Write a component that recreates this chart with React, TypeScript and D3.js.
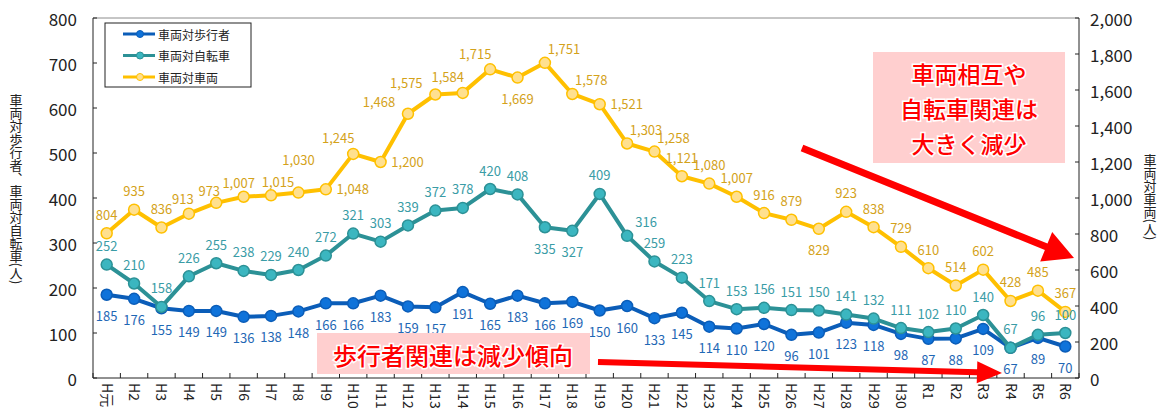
import React from "react";
import { scaleBand, scaleLinear, line, format } from "d3";

const categories = [
  "H元", "H2", "H3", "H4", "H5", "H6", "H7", "H8", "H9", "H10",
  "H11", "H12", "H13", "H14", "H15", "H16", "H17", "H18", "H19", "H20",
  "H21", "H22", "H23", "H24", "H25", "H26", "H27", "H28", "H29", "H30",
  "R1", "R2", "R3", "R4", "R5", "R6",
];

const pedestrian = [
  185, 176, 155, 149, 149, 136, 138, 148, 166, 166, 183, 159, 157, 191, 165, 183, 166, 169,
  150, 160, 133, 145, 114, 110, 120, 96, 101, 123, 118, 98, 87, 88, 109, 67, 89, 70,
];

const bicycle = [
  252, 210, 158, 226, 255, 238, 229, 240, 272, 321, 303, 339, 372, 378, 420, 408, 335, 327,
  409, 316, 259, 223, 171, 153, 156, 151, 150, 141, 132, 111, 102, 110, 140, 67, 96, 100,
];

const vehicle = [
  804, 935, 836, 913, 973, 1007, 1015, 1030, 1048, 1245, 1200, 1468, 1575, 1584, 1715, 1669,
  1751, 1578, 1521, 1303, 1258, 1121, 1080, 1007, 916, 879, 829, 923, 838, 729, 610, 514,
  602, 428, 485, 367,
];

const leftTicks = [0, 100, 200, 300, 400, 500, 600, 700, 800];
const rightTicks = [0, 200, 400, 600, 800, 1000, 1200, 1400, 1600, 1800, 2000];

// label placement codes (t=above, b=below, r=right, ...)
const pedPlace = categories.map(() => "b");
const bikePlace = [
  "t", "t", "t", "t", "t", "t", "t", "t", "t", "t", "t", "t", "t", "t", "t", "t", "b", "b",
  "t", "tr", "t", "t", "t", "t", "t", "t", "t", "t", "t", "t", "t", "t", "t", "t", "t", "t",
];
const vehPlace = [
  "t", "t", "t", "tl1", "tl2", "tl3", "tr3", "tt", "r", "tl", "r", "l", "l", "tl", "tl", "b",
  "tr", "tr", "r", "tr", "tr", "t", "t", "t", "t", "t", "b", "t", "t", "t", "t", "t",
  "t", "t", "t", "t",
];

const offsets: Record<string, [number, number]> = {
  t: [0, -19],
  tt: [0, -33],
  b: [0, 21],
  r: [27, -1],
  l: [-29, -12],
  tl: [-15, -16],
  tr: [19, -14],
  tl1: [-6, -15],
  tl2: [-7, -12],
  tl3: [-5, -14],
  tr3: [7, -14],
};

const W = 1164;
const H = 412;
const left = 93;
const right = 1079;
const top = 18;
const bottom = 378;

const FONT = "'Noto Sans CJK JP', 'Noto Sans', sans-serif";

const x = scaleBand<string>().domain(categories).range([left, right]);
const yL = scaleLinear().domain([0, 800]).range([bottom, top]);
const yR = scaleLinear().domain([0, 2000]).range([bottom, top]);
const cx = (c: string) => (x(c) as number) + x.bandwidth() / 2;
const fmt = format(",");

const series = [
  {
    name: "車両対歩行者",
    values: pedestrian,
    y: yL,
    place: pedPlace,
    lineColor: "#0B5DB8",
    fill: "#0F73DA",
    labelColor: "#1F68B5",
  },
  {
    name: "車両対自転車",
    values: bicycle,
    y: yL,
    place: bikePlace,
    lineColor: "#2C9196",
    fill: "#3BB6C0",
    labelColor: "#3A9CA6",
  },
  {
    name: "車両対車両",
    values: vehicle,
    y: yR,
    place: vehPlace,
    lineColor: "#FFC000",
    fill: "#FFE08F",
    labelColor: "#D4A21A",
  },
];

// polygon for a thick arrow from (x1,y1) to tip (x2,y2)
function arrowPath(x1: number, y1: number, x2: number, y2: number, shaft: number, headLen: number, headW: number) {
  const dx = x2 - x1;
  const dy = y2 - y1;
  const len = Math.hypot(dx, dy);
  const ux = dx / len;
  const uy = dy / len;
  const nx = -uy;
  const ny = ux;
  const bx = x2 - ux * headLen;
  const by = y2 - uy * headLen;
  const p = [
    [x1 + nx * shaft / 2, y1 + ny * shaft / 2],
    [bx + nx * shaft / 2, by + ny * shaft / 2],
    [bx + nx * headW / 2, by + ny * headW / 2],
    [x2, y2],
    [bx - nx * headW / 2, by - ny * headW / 2],
    [bx - nx * shaft / 2, by - ny * shaft / 2],
    [x1 - nx * shaft / 2, y1 - ny * shaft / 2],
  ];
  return "M" + p.map((q) => q.join(",")).join("L") + "Z";
}

const App = () => {
  const boundaries = categories.map((c) => x(c) as number).concat([right]);

  return (
    <svg
      width={W}
      height={H}
      style={{ position: "absolute", left: 0, top: 0, background: "#fff" }}
      fontFamily={FONT}
    >
      {/* plot frame */}
      <line x1={left} x2={right} y1={top} y2={top} stroke="#8c8c8c" strokeWidth={1} />
      <line x1={left} x2={left} y1={top} y2={bottom} stroke="#222" strokeWidth={1} />
      <line x1={right} x2={right} y1={top} y2={bottom} stroke="#222" strokeWidth={1} />
      <line x1={left} x2={right} y1={bottom} y2={bottom} stroke="#222" strokeWidth={1} />

      {/* left axis */}
      {leftTicks.map((t) => (
        <g key={"l" + t}>
          <line x1={left} x2={left + 4} y1={yL(t)} y2={yL(t)} stroke="#222" />
          <text x={77} y={yL(t)} textAnchor="end" dominantBaseline="central" fontSize={17} fill="#222">
            {t}
          </text>
        </g>
      ))}
      {/* right axis */}
      {rightTicks.map((t) => (
        <g key={"r" + t}>
          <line x1={right - 4} x2={right} y1={yR(t)} y2={yR(t)} stroke="#222" />
          <text x={1090} y={yR(t)} dominantBaseline="central" fontSize={17} fill="#222">
            {fmt(t)}
          </text>
        </g>
      ))}
      {/* x axis */}
      {boundaries.map((b, i) => (
        <line key={"xt" + i} x1={b} x2={b} y1={bottom} y2={bottom - 5} stroke="#222" />
      ))}
      {categories.map((c) => (
        <text
          key={"xl" + c}
          transform={`translate(${cx(c) - 5},${bottom + 5}) rotate(90)`}
          fontSize={14}
          fill="#222"
        >
          {c}
        </text>
      ))}

      {/* axis titles */}
      <text
        x={16}
        y={189}
        style={{ writingMode: "vertical-rl" }}
        textAnchor="middle"
        fontSize={13}
        fill="#222"
      >
        車両対歩行者、車両対自転車(人)
      </text>
      <text
        x={1150}
        y={197}
        style={{ writingMode: "vertical-rl" }}
        textAnchor="middle"
        fontSize={13}
        fill="#222"
      >
        車両対車両(人)
      </text>

      {/* series lines and markers */}
      {series.map((s) => {
        const gen = line<number>()
          .x((_, i) => cx(categories[i]))
          .y((d) => s.y(d));
        return (
          <g key={s.name}>
            <path d={gen(s.values) as string} fill="none" stroke={s.lineColor} strokeWidth={4} strokeLinejoin="round" />
            {s.values.map((v, i) => (
              <circle
                key={i}
                cx={cx(categories[i])}
                cy={s.y(v)}
                r={5.5}
                fill={s.fill}
                stroke={s.lineColor}
                strokeWidth={1.5}
              />
            ))}
          </g>
        );
      })}

      {/* data labels */}
      {series.map((s) => (
        <g key={"lab" + s.name}>
          {s.values.map((v, i) => {
            const [dx, dy] = offsets[s.place[i]];
            return (
              <text
                key={i}
                x={cx(categories[i]) + dx}
                y={s.y(v) + dy}
                textAnchor="middle"
                dominantBaseline="central"
                fontSize={13}
                fill={s.labelColor}
              >
                {fmt(v)}
              </text>
            );
          })}
        </g>
      ))}

      {/* legend */}
      <rect x={105} y={23} width={146} height={64} fill="#fff" stroke="#222" strokeWidth={1} />
      {series.map((s, i) => {
        const ly = 34 + i * 21.5;
        return (
          <g key={"lg" + s.name}>
            <line x1={123} x2={155} y1={ly} y2={ly} stroke={s.lineColor} strokeWidth={3} />
            <circle cx={140} cy={ly} r={3.5} fill={s.fill} stroke={s.lineColor} strokeWidth={1} />
            <text x={158} y={ly} dominantBaseline="central" fontSize={12} fill="#222">
              {s.name}
            </text>
          </g>
        );
      })}

      {/* annotations */}
      <rect x={873} y={52} width={192} height={111} fill="#FFCFCF" />
      {["車両相互や", "自転車関連は", "大きく減少"].map((t, i) => (
        <text
          key={t}
          x={969}
          y={73 + i * 35}
          textAnchor="middle"
          dominantBaseline="central"
          fontSize={23}
          fontWeight={500}
          fill="#FF0000"
          stroke="#fff"
          strokeWidth={3}
          paintOrder="stroke"
        >
          {t}
        </text>
      ))}
      <path d={arrowPath(802, 148, 1074, 258, 7, 30, 32)} fill="#FF0000" />

      <rect x={317} y={333} width={273} height={41} fill="#FFCFCF" />
      <text
        x={453}
        y={354}
        textAnchor="middle"
        dominantBaseline="central"
        fontSize={24}
        fontWeight={500}
        fill="#FF0000"
        stroke="#fff"
        strokeWidth={3}
        paintOrder="stroke"
      >
        歩行者関連は減少傾向
      </text>
      <path d={arrowPath(598, 362, 1002, 373, 6, 25, 22)} fill="#FF0000" />
    </svg>
  );
};

export default App;
